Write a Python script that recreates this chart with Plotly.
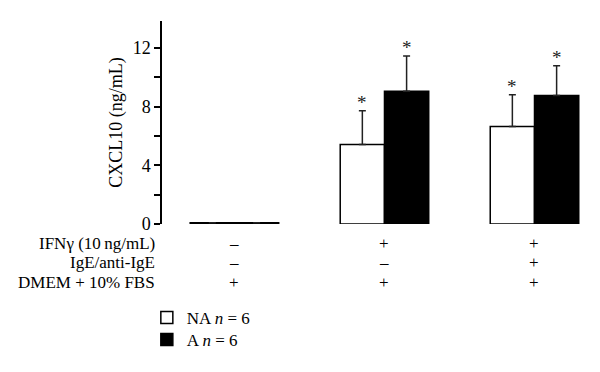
import plotly.graph_objects as go

# Data
groups = [0, 1, 2]
na_vals = [0.08, 5.43, 6.66]
na_err = [0.0, 2.29, 2.16]
a_vals = [0.08, 9.05, 8.77]
a_err = [0.0, 2.42, 2.02]
star_na = ["", "*", "*"]
star_a = ["", "*", "*"]
row_labels = ["IFN\u03b3 (10\u2009ng/mL)", "IgE/anti-IgE", "DMEM + 10% FBS"]
row_marks = [["\u2013", "+", "+"], ["\u2013", "\u2013", "+"], ["+", "+", "+"]]
y_ticks = [0, 2, 4, 6, 8, 10, 12]
y_ticktext = ["0", "", "4", "", "8", "", "12"]

FONT = "Liberation Serif"

fig = go.Figure()
fig.add_trace(go.Bar(
    x=groups, y=na_vals, name="NA <i>n</i> = 6", legend="legend",
    marker=dict(color="white", line=dict(color="black", width=1.5)),
    error_y=dict(type="data", array=na_err, arrayminus=[0, 0, 0], symmetric=False,
                 color="#222", thickness=1.5, width=3.5),
))
fig.add_trace(go.Bar(
    x=groups, y=a_vals, name="A <i>n</i> = 6", legend="legend2",
    marker=dict(color="black", line=dict(color="black", width=1.5)),
    error_y=dict(type="data", array=a_err, arrayminus=[0, 0, 0], symmetric=False,
                 color="#222", thickness=1.5, width=3.5),
))

bargap = 0.41
half = (1 - bargap) / 4
annotations = []
for i, g in enumerate(groups):
    for vals, errs, stars, sgn in [(na_vals, na_err, star_na, -1), (a_vals, a_err, star_a, 1)]:
        if stars[i]:
            annotations.append(dict(
                x=g + sgn * half, y=vals[i] + errs[i], xref="x", yref="y",
                text=stars[i], showarrow=False, yanchor="bottom", yshift=-4,
                font=dict(family=FONT, size=19, color="#222")))

row_shifts = [-19, -38, -58]
for r, lab in enumerate(row_labels):
    annotations.append(dict(
        x=0, y=0, xref="paper", yref="paper", xanchor="right", yanchor="middle",
        xshift=-5, yshift=row_shifts[r], text=lab, showarrow=False,
        font=dict(family=FONT, size=17, color="black")))
    for i, g in enumerate(groups):
        annotations.append(dict(
            x=g, y=0, xref="x", yref="paper", xanchor="center", yanchor="middle",
            yshift=row_shifts[r], text=row_marks[r][i], showarrow=False,
            font=dict(family=FONT, size=17, color="black")))

leg_common = dict(xanchor="left", yanchor="top",
                  font=dict(family=FONT, size=17, color="black"),
                  bgcolor="rgba(0,0,0,0)")

fig.update_layout(
    width=600, height=372,
    margin=dict(l=154, r=0, t=13, b=156),
    paper_bgcolor="white", plot_bgcolor="white",
    barmode="group", bargap=bargap, bargroupgap=0,
    font=dict(family=FONT, size=16, color="black"),
    showlegend=True,
    legend=dict(x=-0.034, y=-0.374, **leg_common),
    legend2=dict(x=-0.034, y=-0.483, **leg_common),
    annotations=annotations,
    xaxis=dict(range=[-0.483, 2.49], showticklabels=False, ticks="",
               showline=False, showgrid=False, zeroline=False, fixedrange=True),
    yaxis=dict(range=[0, 13.85], tickvals=y_ticks, ticktext=y_ticktext,
               ticks="outside", ticklen=6, tickwidth=1.5, tickcolor="black",
               showline=True, linecolor="black", linewidth=1.5,
               showgrid=False, zeroline=False,
               tickfont=dict(family=FONT, size=18, color="black"),
               title=dict(text="CXCL10 (ng/mL)", standoff=5,
                          font=dict(family=FONT, size=18, color="black"))),
)

fig.write_html("out.html")
